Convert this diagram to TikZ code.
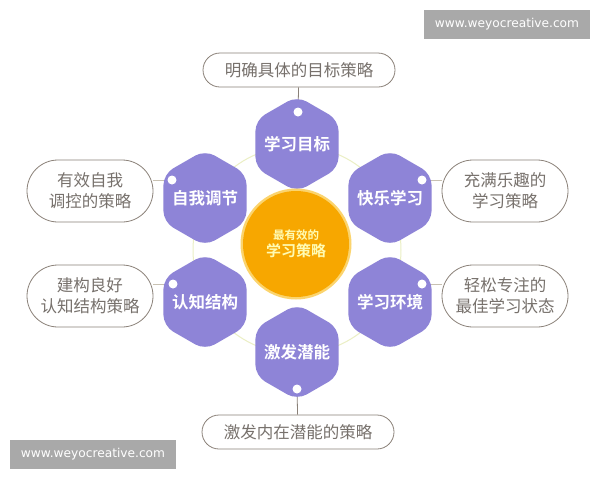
\documentclass[tikz,border=0pt]{standalone}
\usepackage{fontspec}
\usepackage{tikz}
\usetikzlibrary{shapes.geometric}
\newfontfamily\cjk{Noto Sans CJK SC}
\newfontfamily\cjkb{Noto Sans CJK SC Bold}
\newfontfamily\webfont{DejaVu Sans}
\definecolor{hexpurple}{HTML}{8E84D7}
\definecolor{coreorange}{HTML}{F7A700}
\definecolor{coreglow}{HTML}{FBD46E}
\definecolor{ringline}{HTML}{EBEFC4}
\definecolor{tagline}{HTML}{8A8178}
\definecolor{tagtext}{HTML}{77716C}
\definecolor{linkline}{HTML}{C8C1B2}
\definecolor{markgray}{HTML}{A9A9A9}

\begin{document}
\begin{tikzpicture}[x=1pt,y=-1pt,
    hexa/.style={regular polygon, regular polygon sides=6, shape border rotate=30,
      minimum size=96pt, inner sep=0pt, fill=hexpurple, rounded corners=11pt,
      label={[text=white, font=\cjkb\fontsize{16.5}{20}\selectfont]center:#1}},
    tag/.style={draw=tagline, line width=0.8pt, fill=white, text=tagtext,
      align=center, inner sep=0pt, font=\cjk\fontsize{16.5}{21}\selectfont},
    tagone/.style={tag, minimum width=192pt, minimum height=34pt, rounded corners=17pt},
    tagtwo/.style={tag, minimum width=126pt, minimum height=62pt, rounded corners=31pt},
    hole/.style={circle, fill=white, minimum size=9pt, inner sep=0pt},
    webmark/.style={fill=markgray, text=white, minimum width=166pt, minimum height=29pt,
      inner sep=0pt, font=\webfont\fontsize{12.2}{14}\selectfont}]
    \useasboundingbox (0,0) rectangle (600,480);
    \fill [white] (0,0) rectangle (600,480);
    \draw [ringline, line width=1pt] (297,250) circle (104);
    \node [tagone] (goaltag) at (299,70) {明确具体的目标策略};
    \node [tagtwo] (selftag) at (90,191) {有效自我\\调控的策略};
    \node [tagtwo] (cogtag) at (90,296) {建构良好\\认知结构策略};
    \node [tagtwo] (joytag) at (505,191) {充满乐趣的\\学习策略};
    \node [tagtwo] (envtag) at (505,296) {轻松专注的\\最佳学习状态};
    \node [tagone] (potag) at (298,432) {激发内在潜能的策略};
    \coordinate (goalhole) at (298,112);
    \coordinate (selfhole) at (172,180);
    \coordinate (joyhole) at (422,180);
    \coordinate (coghole) at (173,284);
    \coordinate (envhole) at (422,284);
    \coordinate (pohole) at (297,389);
    \draw [tagline, line width=0.8pt] (goaltag) -- (goalhole);
    \draw [linkline, line width=0.8pt] (selftag.east |- selfhole) -- (selfhole);
    \draw [linkline, line width=0.8pt] (cogtag.east |- coghole) -- (coghole);
    \draw [linkline, line width=0.8pt] (joytag.west |- joyhole) -- (joyhole);
    \draw [linkline, line width=0.8pt] (envtag.west |- envhole) -- (envhole);
    \draw [tagline, line width=0.8pt] (potag) -- (pohole);
    \node [hexa=学习目标] (goal) at (297,144) {};
    \node [hexa=自我调节] (self) at (205,198) {};
    \node [hexa=快乐学习] (joy) at (390,198) {};
    \node [hexa=认知结构] (cog) at (205,302) {};
    \node [hexa=学习环境] (env) at (390,302) {};
    \node [hexa=激发潜能] (po) at (297,352) {};
    \foreach \h in {goalhole,selfhole,joyhole,coghole,envhole,pohole}
      \node [hole] at (\h) {};
    \fill [coreglow] (296,244) circle (55.5);
    \node [circle, fill=coreorange, minimum size=106pt, inner sep=0pt, align=center,
      text=yellow!30, font=\cjkb] (core) at (296,244)
      {{\fontsize{11.5}{16}\selectfont 最有效的}\\[2pt]{\fontsize{15}{18}\selectfont 学习策略}};
    \node [webmark] (markup) at (507,24.5) {www.weyocreative.com};
    \node [webmark] (markdown) at (93,454.5) {www.weyocreative.com};
\end{tikzpicture}
\end{document}
